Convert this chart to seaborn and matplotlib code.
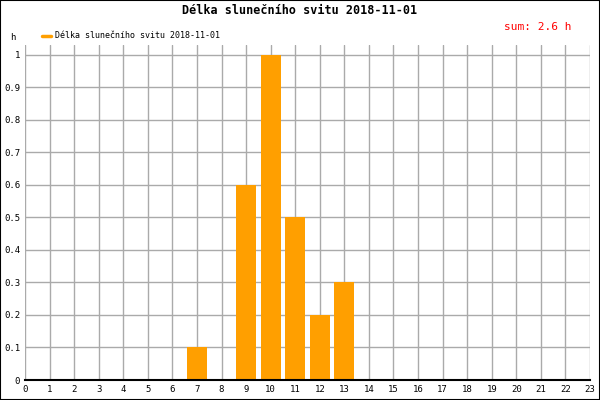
import pandas as pd
import matplotlib
matplotlib.use("Agg")
import matplotlib.pyplot as plt
from matplotlib.lines import Line2D
import seaborn as sns

# hourly sunshine duration, 2018-11-01
hours = list(range(24))
sunshine = [0, 0, 0, 0, 0, 0, 0, 0.1, 0, 0.6, 1.0, 0.5,
            0.2, 0.3, 0, 0, 0, 0, 0, 0, 0, 0, 0, 0]
y_ticks = [0, 0.1, 0.2, 0.3, 0.4, 0.5, 0.6, 0.7, 0.8, 0.9, 1]
y_labels = ["0", "0.1", "0.2", "0.3", "0.4", "0.5", "0.6", "0.7", "0.8", "0.9", "1"]
series_name = "Délka slunečního svitu 2018-11-01"
total_label = "sum: 2.6 h"  # as printed on the chart

df = pd.DataFrame({"hour": hours, "h": sunshine})

sns.set_style("white")
plt.rcParams["font.family"] = ["DejaVu Sans Mono"]
plt.rcParams["text.color"] = "black"
plt.rcParams["xtick.color"] = "black"
plt.rcParams["ytick.color"] = "black"

fig = plt.figure(figsize=(6, 4), dpi=100)
ax = fig.add_axes([25 / 600, 20 / 400, 565 / 600, 335 / 400])

sns.barplot(data=df, x="hour", y="h", order=hours, color="#ff9f00",
            saturation=1, width=0.82, linewidth=0, ax=ax, zorder=3)

ax.set_xlim(0, 23)
ax.set_ylim(0, 1.03)
ax.set_yticks(y_ticks)
ax.set_yticklabels(y_labels)
ax.set_xticks(hours)
ax.set_xticklabels([str(h) for h in hours])
ax.grid(True, color="#aaaaaa", linewidth=1, zorder=0)
ax.set_axisbelow(True)
ax.set_xlabel("")
ax.set_ylabel("")
for s in ["top", "right", "left"]:
    ax.spines[s].set_visible(False)
ax.spines["bottom"].set_color("black")
ax.spines["bottom"].set_linewidth(1.5)
ax.spines["bottom"].set_zorder(5)
ax.tick_params(axis="both", labelsize=6.5, length=2.5, width=0.8,
               color="black", labelcolor="black", pad=1)

fig.text(0.5, 0.975, series_name, ha="center", va="center",
         fontsize=8.5, fontweight="bold", color="black")
fig.text(572 / 600, 1 - 27 / 400, total_label, ha="right", va="center",
         fontsize=8, color="red")
fig.text(13 / 600, 1 - 38 / 400, "h", ha="center", va="center", fontsize=6.5)

handle = Line2D([], [], color="#ff9f00", linewidth=2.5)
fig.legend([handle], [series_name], loc="center left",
           bbox_to_anchor=(38 / 600, 1 - 36 / 400), frameon=False,
           fontsize=6, handlelength=1.0, handletextpad=0.5, borderpad=0,
           labelcolor="black")

fig.patches.append(plt.Rectangle((0, 0), 1, 1, transform=fig.transFigure,
                                 fill=False, edgecolor="black", linewidth=1.5))

fig.savefig("out.png", dpi=100)
